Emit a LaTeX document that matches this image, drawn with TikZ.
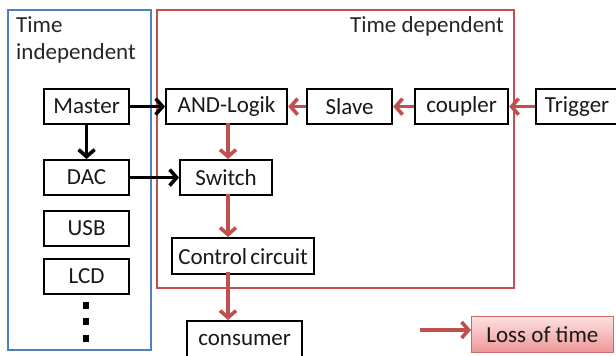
\documentclass[tikz,border=0pt]{standalone}
\usepackage{fontspec}
\setmainfont{Carlito}
\usetikzlibrary{arrows.meta}
\definecolor{offred}{RGB}{192,80,77}
\definecolor{offblue}{RGB}{79,129,189}
\definecolor{pinktop}{RGB}{253,225,225}
\definecolor{pinkbot}{RGB}{238,150,150}
\begin{document}
\begin{tikzpicture}[x=1pt,y=-1pt,
  every node/.style={font=\fontsize{23}{27}\selectfont, text=black!90},
  blk/.style={draw=black, line width=2.2pt, fill=white, inner sep=0pt, anchor=north west},
  barr/.style={line width=3.6pt, black, -{Straight Barb[length=7pt,width=16pt]}},
  rarr/.style={line width=3.6pt, offred, -{Straight Barb[length=7pt,width=16pt]}},
  cont/.style={line width=2pt}]
\useasboundingbox (0,0) rectangle (616,356);
% containers
\draw[cont, offblue] (8,10) rectangle (151,350);
\draw[cont, offred] (157,10) rectangle (514,288);
\node[anchor=north west, align=left, inner sep=0pt, text=black!85] (ti) at (16,16) {Time\\independent};
\node[anchor=north east, inner sep=0pt, text=black!85] (td) at (504,16) {Time dependent};
% boxes
\node[blk, minimum width=85pt, minimum height=35pt] (master) at (43,88) {Master};
\node[blk, minimum width=85pt, minimum height=35pt] (dac) at (43,159) {DAC};
\node[blk, minimum width=85pt, minimum height=35pt] (usb) at (43,210) {USB};
\node[blk, minimum width=85pt, minimum height=35pt] (lcd) at (43,258) {LCD};
\node[blk, minimum width=121pt, minimum height=35pt] (and) at (165,88) {AND-Logik};
\node[blk, minimum width=92pt, minimum height=35pt] (switch) at (179,159) {Switch};
\node[blk, minimum width=85pt, minimum height=35pt] (slave) at (306,88) {Slave};
\node[blk, minimum width=93pt, minimum height=35pt] (coupler) at (414,88) {coupler};
\node[blk, minimum width=82pt, minimum height=35pt] (trigger) at (535,88) {Trigger};
\node[blk, minimum width=142pt, minimum height=36pt] (ctrl) at (171,237) {Control\kern-2pt\ circuit};
\node[blk, minimum width=115pt, minimum height=38pt] (cons) at (186,320) {consumer};
\node[anchor=north west, draw=offred!85, line width=0.8pt, top color=pinktop, bottom color=pinkbot, inner sep=0pt, minimum width=142pt, minimum height=36pt] (loss) at (471,316) {Loss of time};
% dots
\foreach \yy in {305,321,338}
  \fill (83,\yy-3.5) rectangle (89,\yy+3.5);
% arrows
\draw[barr] (master.east) -- (and.west);
\draw[barr] (master.south) -- (dac.north);
\draw[barr] (dac.east) -- (switch.west);
\draw[rarr] (228,123) -- (228,159);
\draw[rarr] (slave.west) -- (and.east);
\draw[rarr] (coupler.west) -- (slave.east);
\draw[rarr] (trigger.west) -- (coupler.east);
\draw[rarr] (228,194) -- (228,237);
\draw[rarr] (228,272) -- (228,320);
\coordinate (lstart) at (420,330);
\draw[rarr] (lstart) -- (loss.west |- lstart);
\end{tikzpicture}
\end{document}
